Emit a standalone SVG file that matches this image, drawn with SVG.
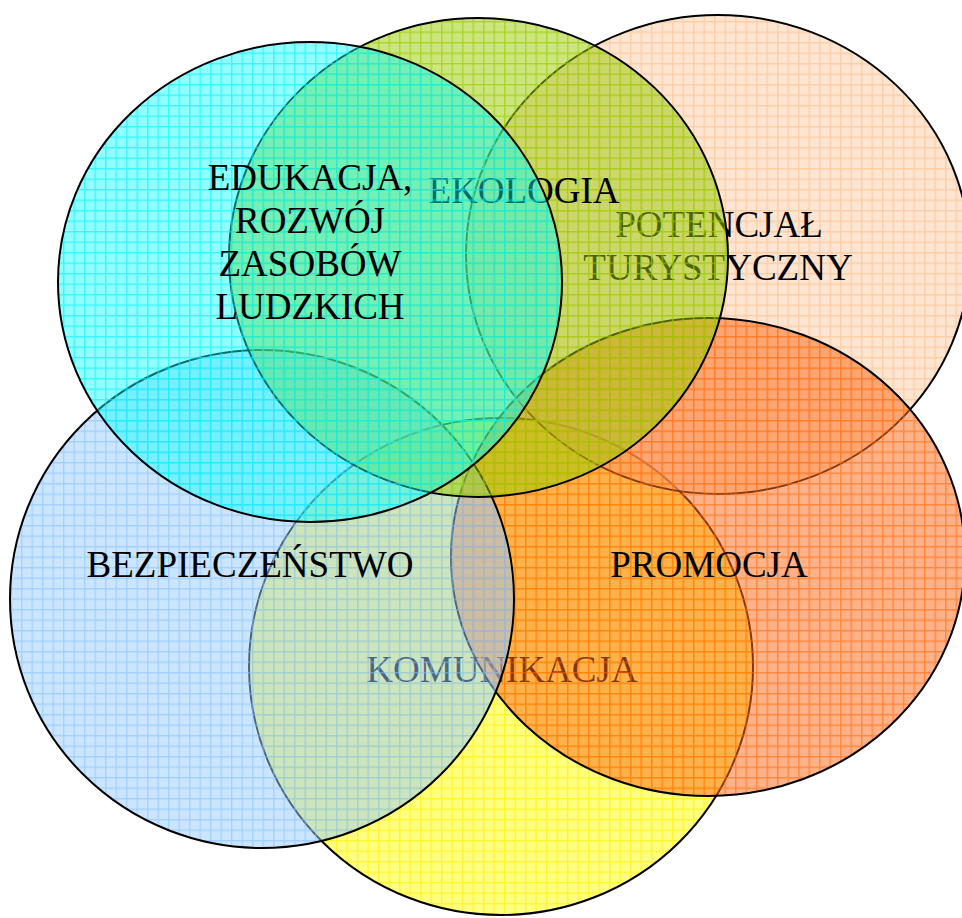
<svg xmlns="http://www.w3.org/2000/svg" width="962" height="918" viewBox="0 0 962 918">
<defs>
<pattern id="pY" width="10.5" height="10.5" patternUnits="userSpaceOnUse"><rect width="10.5" height="10.5" fill="#FFFF00" fill-opacity="0.5"/><path d="M0 0.75H10.5M0.75 0V10.5" stroke="#FFEE00" stroke-width="1.4" stroke-opacity="0.6" fill="none"/></pattern>
<pattern id="pP" width="10.5" height="10.5" patternUnits="userSpaceOnUse"><rect width="10.5" height="10.5" fill="#FBD4B4" fill-opacity="0.6"/><path d="M0 0.75H10.5M0.75 0V10.5" stroke="#FFA860" stroke-width="1.4" stroke-opacity="0.38" fill="none"/></pattern>
<pattern id="pO" width="10.5" height="10.5" patternUnits="userSpaceOnUse"><rect width="10.5" height="10.5" fill="#FF6A1A" fill-opacity="0.52"/><path d="M0 0.75H10.5M0.75 0V10.5" stroke="#FF6600" stroke-width="1.4" stroke-opacity="0.55" fill="none"/></pattern>
<pattern id="pB" width="10.5" height="10.5" patternUnits="userSpaceOnUse"><rect width="10.5" height="10.5" fill="#99CCFF" fill-opacity="0.5"/><path d="M0 0.75H10.5M0.75 0V10.5" stroke="#80C0FF" stroke-width="1.4" stroke-opacity="0.55" fill="none"/></pattern>
<pattern id="pG" width="10.5" height="10.5" patternUnits="userSpaceOnUse"><rect width="10.5" height="10.5" fill="#99CC00" fill-opacity="0.5"/><path d="M0 0.75H10.5M0.75 0V10.5" stroke="#99CC00" stroke-width="1.4" stroke-opacity="0.65" fill="none"/></pattern>
<pattern id="pC" width="10.5" height="10.5" patternUnits="userSpaceOnUse"><rect width="10.5" height="10.5" fill="#00FFFF" fill-opacity="0.43"/><path d="M0 0.75H10.5M0.75 0V10.5" stroke="#00F0FF" stroke-width="1.4" stroke-opacity="0.6" fill="none"/></pattern>
</defs>
<style>
.c{stroke:#000;stroke-width:2}
.t{font-family:"Liberation Serif","Times New Roman",serif;font-size:37px;fill:#000;text-anchor:middle}
</style>
<rect width="962" height="918" fill="#fff"/>
<g id="komunikacja">
<ellipse class="c" cx="501" cy="666.5" rx="252" ry="248.5" fill="url(#pY)"/>
<text class="t" x="502" y="682">KOMUNIKACJA</text>
</g>
<g id="potencjal">
<ellipse class="c" cx="718" cy="254.5" rx="252" ry="239.5" fill="url(#pP)"/>
<text class="t" x="719" y="237">POTENCJAŁ</text>
<text class="t" x="718" y="280">TURYSTYCZNY</text>
</g>
<g id="promocja">
<ellipse class="c" cx="708" cy="557" rx="257" ry="239" fill="url(#pO)"/>
<text class="t" x="709" y="577">PROMOCJA</text>
</g>
<g id="bezpieczenstwo">
<ellipse class="c" cx="262" cy="599" rx="252" ry="249" fill="url(#pB)"/>
<text class="t" x="250" y="577">BEZPIECZEŃSTWO</text>
</g>
<g id="ekologia">
<ellipse class="c" cx="478.5" cy="257.5" rx="249.5" ry="239.5" fill="url(#pG)"/>
<text class="t" x="524" y="203">EKOLOGIA</text>
</g>
<g id="edukacja">
<ellipse class="c" cx="310" cy="282" rx="252" ry="240" fill="url(#pC)"/>
<text class="t" x="310" y="190">EDUKACJA,</text>
<text class="t" x="310" y="233">ROZWÓJ</text>
<text class="t" x="310" y="276">ZASOBÓW</text>
<text class="t" x="310" y="319">LUDZKICH</text>
</g>
</svg>
